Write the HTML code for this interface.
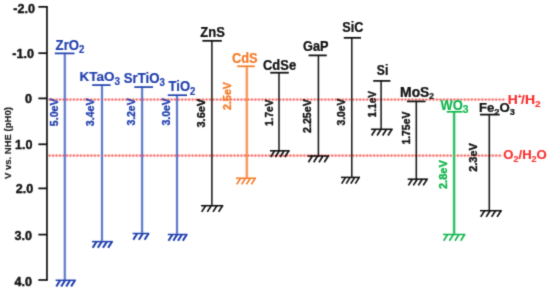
<!DOCTYPE html>
<html><head><meta charset="utf-8"><title>Band edge positions</title>
<style>
html,body{margin:0;padding:0;background:#fff;}
body{width:550px;height:291px;overflow:hidden;}
svg{display:block;font-family:"Liberation Sans",Arial,sans-serif;font-weight:bold;}
text{paint-order:stroke;stroke-width:0.2px;stroke-linejoin:round;}
.e{stroke-width:0.35px;}
.k,.k text{stroke-width:0.35px;}
.r{stroke-width:0.15px;}
</style></head><body>
<svg width="550" height="291" viewBox="0 0 550 291">
<defs><filter id="soft" x="-2%" y="-2%" width="104%" height="104%"><feConvolveMatrix order="3" kernelMatrix="0.0192 0.1001 0.0192 0.1001 0.5228 0.1001 0.0192 0.1001 0.0192" edgeMode="none" preserveAlpha="false"/></filter><filter id="soft2" x="-2%" y="-2%" width="104%" height="104%"><feConvolveMatrix order="5" kernelMatrix="0.0001 0.0015 0.0046 0.0015 0.0001 0.0015 0.0396 0.1167 0.0396 0.0015 0.0046 0.1167 0.3441 0.1167 0.0046 0.0015 0.0396 0.1167 0.0396 0.0015 0.0001 0.0015 0.0046 0.0015 0.0001" edgeMode="none" preserveAlpha="false"/></filter></defs>
<rect width="550" height="291" fill="#fff"/>
<g filter="url(#soft2)">
<g stroke="#f3423b" stroke-width="2.25" stroke-linecap="round" stroke-dasharray="0.01 3.48" fill="none">
<line x1="49.5" y1="99.5" x2="506.6" y2="99.5"/>
<line x1="49.5" y1="155.6" x2="503" y2="155.6"/>
</g>
<g stroke="#fa2e2e" stroke-width="1.2" stroke-opacity="0.2" fill="none">
<line x1="48" y1="99.5" x2="506.6" y2="99.5"/>
<line x1="48" y1="155.6" x2="503" y2="155.6"/>
</g>
<line x1="64.8" y1="53.4" x2="64.8" y2="280.3" stroke="#4f6ec2" stroke-width="2.05"/>
<line x1="102.0" y1="85.1" x2="102.0" y2="241.6" stroke="#4f6ec2" stroke-width="2.05"/>
<line x1="142.1" y1="87.1" x2="142.1" y2="233.5" stroke="#4f6ec2" stroke-width="2.05"/>
<line x1="177" y1="95.2" x2="177" y2="234.5" stroke="#4f6ec2" stroke-width="2.05"/>
<line x1="246.8" y1="66.3" x2="246.8" y2="178.2" stroke="#f68d4a" stroke-width="2.2"/>
<line x1="454.1" y1="111.8" x2="454.1" y2="234.5" stroke="#22bb5c" stroke-width="2.3"/>
</g>
<g filter="url(#soft)">
<line x1="211.9" y1="40.8" x2="211.9" y2="205.7" stroke="#1c1c1c" stroke-width="1.55"/>
<line x1="279" y1="72.7" x2="279" y2="150.8" stroke="#1c1c1c" stroke-width="1.55"/>
<line x1="318.4" y1="55.4" x2="318.4" y2="156" stroke="#1c1c1c" stroke-width="1.55"/>
<line x1="351.8" y1="37.8" x2="351.8" y2="177.4" stroke="#1c1c1c" stroke-width="1.55"/>
<line x1="381.1" y1="80.9" x2="381.1" y2="129.3" stroke="#1c1c1c" stroke-width="1.55"/>
<line x1="416.3" y1="101.4" x2="416.3" y2="179.2" stroke="#1c1c1c" stroke-width="1.55"/>
<line x1="489.3" y1="114.6" x2="489.3" y2="210.7" stroke="#1c1c1c" stroke-width="1.55"/>
<g stroke="#0a0a0a" stroke-width="1.7" fill="none">
<line x1="46.95" y1="6.0" x2="46.95" y2="280.8"/>
<line x1="38.4" y1="6.8" x2="47.1" y2="6.8"/>
<line x1="38.4" y1="53.2" x2="47.1" y2="53.2"/>
<line x1="38.4" y1="98.4" x2="47.1" y2="98.4"/>
<line x1="38.4" y1="144.3" x2="47.1" y2="144.3"/>
<line x1="38.4" y1="188.4" x2="47.1" y2="188.4"/>
<line x1="38.4" y1="234.6" x2="47.1" y2="234.6"/>
<line x1="38.4" y1="280" x2="47.1" y2="280"/>
</g>
<g class="k" fill="#0a0a0a" stroke="#0a0a0a" font-size="12.6" text-anchor="end">
<text x="34.9" y="12.5">-2.0</text>
<text x="33.9" y="57.7">-1.0</text>
<text x="32.0" y="103.2">0</text>
<text x="32.5" y="149.0">1.0</text>
<text x="33.3" y="193.2">2.0</text>
<text x="31.9" y="239.7">3.0</text>
<text x="31.9" y="286.1">4.0</text>
</g>
<text class="r" transform="translate(11.3,179.1) rotate(-90) scale(1,0.86)" fill="#1a1a1a" stroke="#1a1a1a" font-size="9.55">V vs. NHE (pH0)</text>
<g stroke="#4f6ec2" fill="none" stroke-width="2.05">
<line x1="54.8" y1="53.4" x2="74.5" y2="53.4" stroke="#2441ae" stroke-width="1.7"/>
<line x1="55.6" y1="280.3" x2="75.8" y2="280.3" stroke="#2441ae" stroke-width="1.5"/>
<path d="M60.2 280.3 l-3.9 6.2 M65.1 280.3 l-3.9 6.2 M70.1 280.3 l-3.9 6.2 M75.0 280.3 l-3.9 6.2 " stroke="#2441ae" stroke-width="2.1"/>
</g>
<text transform="translate(55.6,49.7) scale(0.879,1)" fill="#2441ae" stroke="#2441ae" font-size="15.0">ZrO<tspan font-size="10.95" dy="3.2">2</tspan></text>
<g stroke="#4f6ec2" fill="none" stroke-width="2.05">
<line x1="92.2" y1="85.1" x2="110.6" y2="85.1" stroke="#2441ae" stroke-width="1.7"/>
<line x1="92" y1="241.6" x2="112.8" y2="241.6" stroke="#2441ae" stroke-width="1.5"/>
<path d="M96.6 241.6 l-3.9 6.2 M101.7 241.6 l-3.9 6.2 M106.9 241.6 l-3.9 6.2 M112.0 241.6 l-3.9 6.2 " stroke="#2441ae" stroke-width="2.1"/>
</g>
<text transform="translate(79.5,81.2) scale(0.999,1)" fill="#2441ae" stroke="#2441ae" font-size="13.5">KTaO<tspan font-size="9.99" dy="3.3">3</tspan></text>
<g stroke="#4f6ec2" fill="none" stroke-width="2.05">
<line x1="134.3" y1="87.1" x2="153" y2="87.1" stroke="#2441ae" stroke-width="1.7"/>
<line x1="132.6" y1="233.5" x2="149.3" y2="233.5" stroke="#2441ae" stroke-width="1.5"/>
<path d="M137.2 233.5 l-3.9 6.2 M142.8 233.5 l-3.9 6.2 M148.5 233.5 l-3.9 6.2 " stroke="#2441ae" stroke-width="2.1"/>
</g>
<text transform="translate(123.7,82.6) scale(0.944,1)" fill="#2441ae" stroke="#2441ae" font-size="14.0">SrTiO<tspan font-size="10.22" dy="3.2">3</tspan></text>
<g stroke="#4f6ec2" fill="none" stroke-width="2.05">
<line x1="167.8" y1="95.2" x2="187" y2="95.2" stroke="#2441ae" stroke-width="1.7"/>
<line x1="167.8" y1="234.5" x2="187.5" y2="234.5" stroke="#2441ae" stroke-width="1.5"/>
<path d="M172.4 234.5 l-3.9 6.2 M177.2 234.5 l-3.9 6.2 M181.9 234.5 l-3.9 6.2 M186.7 234.5 l-3.9 6.2 " stroke="#2441ae" stroke-width="2.1"/>
</g>
<text transform="translate(168.6,91.4) scale(0.925,1)" fill="#2441ae" stroke="#2441ae" font-size="14.1">TiO<tspan font-size="10.29" dy="3.2">2</tspan></text>
<g stroke="#1c1c1c" fill="none" stroke-width="1.55">
<line x1="202.4" y1="40.8" x2="221.8" y2="40.8" stroke="#0a0a0a" stroke-width="1.7"/>
<line x1="201" y1="205.7" x2="223.3" y2="205.7" stroke="#0a0a0a" stroke-width="1.5"/>
<path d="M205.6 205.7 l-3.9 6.2 M211.2 205.7 l-3.9 6.2 M216.9 205.7 l-3.9 6.2 M222.5 205.7 l-3.9 6.2 " stroke="#0a0a0a" stroke-width="1.6"/>
</g>
<text transform="translate(200.3,36.7) scale(0.930,1)" fill="#0a0a0a" stroke="#0a0a0a" font-size="14.0">ZnS</text>
<g stroke="#f68d4a" fill="none" stroke-width="2.2">
<line x1="237.2" y1="66.3" x2="254.8" y2="66.3" stroke="#f47a28" stroke-width="1.7"/>
<line x1="236" y1="178.2" x2="256" y2="178.2" stroke="#f47a28" stroke-width="1.5"/>
<path d="M240.6 178.2 l-3.9 6.2 M245.5 178.2 l-3.9 6.2 M250.3 178.2 l-3.9 6.2 M255.2 178.2 l-3.9 6.2 " stroke="#f47a28" stroke-width="1.6"/>
</g>
<text transform="translate(232.0,62.5) scale(0.931,1)" fill="#f47a28" stroke="#f47a28" font-size="13.8">CdS</text>
<g stroke="#1c1c1c" fill="none" stroke-width="1.55">
<line x1="270.2" y1="72.7" x2="288.8" y2="72.7" stroke="#0a0a0a" stroke-width="1.7"/>
<line x1="270" y1="150.8" x2="289.6" y2="150.8" stroke="#0a0a0a" stroke-width="1.5"/>
<path d="M274.6 150.8 l-3.9 6.2 M279.3 150.8 l-3.9 6.2 M284.1 150.8 l-3.9 6.2 M288.8 150.8 l-3.9 6.2 " stroke="#0a0a0a" stroke-width="1.6"/>
</g>
<text transform="translate(263.0,70) scale(0.932,1)" fill="#0a0a0a" stroke="#0a0a0a" font-size="13.9">CdSe</text>
<g stroke="#1c1c1c" fill="none" stroke-width="1.55">
<line x1="308.6" y1="55.4" x2="326.8" y2="55.4" stroke="#0a0a0a" stroke-width="1.7"/>
<line x1="307.7" y1="156" x2="329" y2="156" stroke="#0a0a0a" stroke-width="1.5"/>
<path d="M312.3 156 l-3.9 6.2 M317.6 156 l-3.9 6.2 M322.9 156 l-3.9 6.2 M328.2 156 l-3.9 6.2 " stroke="#0a0a0a" stroke-width="1.6"/>
</g>
<text transform="translate(303.0,51.0) scale(0.910,1)" fill="#0a0a0a" stroke="#0a0a0a" font-size="14.0">GaP</text>
<g stroke="#1c1c1c" fill="none" stroke-width="1.55">
<line x1="343.8" y1="37.8" x2="361" y2="37.8" stroke="#0a0a0a" stroke-width="1.7"/>
<line x1="341" y1="177.4" x2="360" y2="177.4" stroke="#0a0a0a" stroke-width="1.5"/>
<path d="M345.6 177.4 l-3.9 6.2 M350.1 177.4 l-3.9 6.2 M354.7 177.4 l-3.9 6.2 M359.2 177.4 l-3.9 6.2 " stroke="#0a0a0a" stroke-width="1.6"/>
</g>
<text transform="translate(342.2,32.0) scale(0.904,1)" fill="#0a0a0a" stroke="#0a0a0a" font-size="14.0">SiC</text>
<g stroke="#1c1c1c" fill="none" stroke-width="1.55">
<line x1="373.2" y1="80.9" x2="390.4" y2="80.9" stroke="#0a0a0a" stroke-width="1.7"/>
<line x1="371" y1="129.3" x2="392.7" y2="129.3" stroke="#0a0a0a" stroke-width="1.5"/>
<path d="M375.6 129.3 l-3.9 6.2 M381.0 129.3 l-3.9 6.2 M386.5 129.3 l-3.9 6.2 M391.9 129.3 l-3.9 6.2 " stroke="#0a0a0a" stroke-width="1.6"/>
</g>
<text transform="translate(376.8,75.1) scale(0.869,1)" fill="#0a0a0a" stroke="#0a0a0a" font-size="14.0">Si</text>
<g stroke="#1c1c1c" fill="none" stroke-width="1.55">
<line x1="407" y1="101.4" x2="425.5" y2="101.4" stroke="#0a0a0a" stroke-width="1.7"/>
<line x1="407.7" y1="179.2" x2="427.9" y2="179.2" stroke="#0a0a0a" stroke-width="1.5"/>
<path d="M412.3 179.2 l-3.9 6.2 M417.2 179.2 l-3.9 6.2 M422.2 179.2 l-3.9 6.2 M427.1 179.2 l-3.9 6.2 " stroke="#0a0a0a" stroke-width="1.6"/>
</g>
<text transform="translate(400.1,96.8) scale(0.998,1)" fill="#0a0a0a" stroke="#0a0a0a" font-size="13.9">MoS<tspan font-size="8.34" dy="2.5">2</tspan></text>
<g stroke="#22bb5c" fill="none" stroke-width="2.3">
<line x1="446.8" y1="111.8" x2="462.6" y2="111.8" stroke="#10b54a" stroke-width="1.7"/>
<line x1="443" y1="234.5" x2="465.4" y2="234.5" stroke="#10b54a" stroke-width="1.5"/>
<path d="M447.6 234.5 l-3.9 6.2 M453.3 234.5 l-3.9 6.2 M458.9 234.5 l-3.9 6.2 M464.6 234.5 l-3.9 6.2 " stroke="#10b54a" stroke-width="1.6"/>
</g>
<text transform="translate(440.6,109.9) scale(0.923,1)" fill="#10b54a" stroke="#10b54a" font-size="14.0">WO<tspan font-size="11.20" dy="3.0">3</tspan></text>
<g stroke="#1c1c1c" fill="none" stroke-width="1.55">
<line x1="480" y1="114.6" x2="499.6" y2="114.6" stroke="#0a0a0a" stroke-width="1.7"/>
<line x1="480" y1="210.7" x2="501.8" y2="210.7" stroke="#0a0a0a" stroke-width="1.5"/>
<path d="M484.6 210.7 l-3.9 6.2 M490.1 210.7 l-3.9 6.2 M495.5 210.7 l-3.9 6.2 M501.0 210.7 l-3.9 6.2 " stroke="#0a0a0a" stroke-width="1.6"/>
</g>
<text transform="translate(479.0,111.7) scale(0.984,1)" fill="#0a0a0a" stroke="#0a0a0a" font-size="13.4">Fe<tspan font-size="9.38" dy="3.1">2</tspan><tspan dy="-3.1">O</tspan><tspan font-size="9.38" dy="3.1">3</tspan></text>
<text class="e" transform="translate(58.10,126.20) rotate(-90) scale(1,1.000)" fill="#2441ae" stroke="#2441ae" font-size="10.64">5.0eV</text>
<text class="e" transform="translate(93.90,126.20) rotate(-90) scale(1,1.000)" fill="#2441ae" stroke="#2441ae" font-size="10.64">3.4eV</text>
<text class="e" transform="translate(135.40,125.60) rotate(-90) scale(1,1.000)" fill="#2441ae" stroke="#2441ae" font-size="10.41">3.2eV</text>
<text class="e" transform="translate(169.50,125.60) rotate(-90) scale(1,1.000)" fill="#2441ae" stroke="#2441ae" font-size="10.52">3.0eV</text>
<text class="e k" transform="translate(204.60,127.50) rotate(-90) scale(1,0.954)" fill="#0a0a0a" stroke="#0a0a0a" font-size="10.98">3.6eV</text>
<text class="e" transform="translate(231.10,109.90) rotate(-90) scale(1,0.981)" fill="#f47a28" stroke="#f47a28" font-size="10.68">2.5eV</text>
<text class="e k" transform="translate(273.00,126.00) rotate(-90) scale(1,1.000)" fill="#0a0a0a" stroke="#0a0a0a" font-size="10.14">1.7eV</text>
<text class="e k" transform="translate(311.00,133.00) rotate(-90) scale(1,0.982)" fill="#0a0a0a" stroke="#0a0a0a" font-size="10.66">2.25eV</text>
<text class="e k" transform="translate(344.60,125.60) rotate(-90) scale(1,1.000)" fill="#0a0a0a" stroke="#0a0a0a" font-size="10.33">3.0eV</text>
<text class="e k" transform="translate(375.50,117.40) rotate(-90) scale(1,1.000)" fill="#0a0a0a" stroke="#0a0a0a" font-size="10.10">1.1eV</text>
<text class="e k" transform="translate(410.40,144.60) rotate(-90) scale(1,1.000)" fill="#0a0a0a" stroke="#0a0a0a" font-size="10.41">1.75eV</text>
<text class="e" transform="translate(447.00,189.00) rotate(-90) scale(1,0.989)" fill="#10b54a" stroke="#10b54a" font-size="11.02">2.8eV</text>
<text class="e k" transform="translate(476.50,171.80) rotate(-90) scale(1,0.957)" fill="#0a0a0a" stroke="#0a0a0a" font-size="10.94">2.3eV</text>
<text class="r" transform="translate(507.7,104) scale(1.04,1)" fill="#fa2e2e" stroke="#fa2e2e" font-size="13.4">H<tspan font-size="6.5" dy="-5">+</tspan><tspan dy="5" dx="-0.6">/H</tspan><tspan font-size="9.8" dy="2.6">2</tspan></text>
<text class="r" transform="translate(503.3,159.3) scale(1.0,1)" fill="#fa2e2e" stroke="#fa2e2e" font-size="13.1">O<tspan font-size="9" dy="2.3">2</tspan><tspan dy="-2.3">/H</tspan><tspan font-size="9" dy="2.3">2</tspan><tspan dy="-2.3">O</tspan></text>
</g>
</svg>
</body></html>
